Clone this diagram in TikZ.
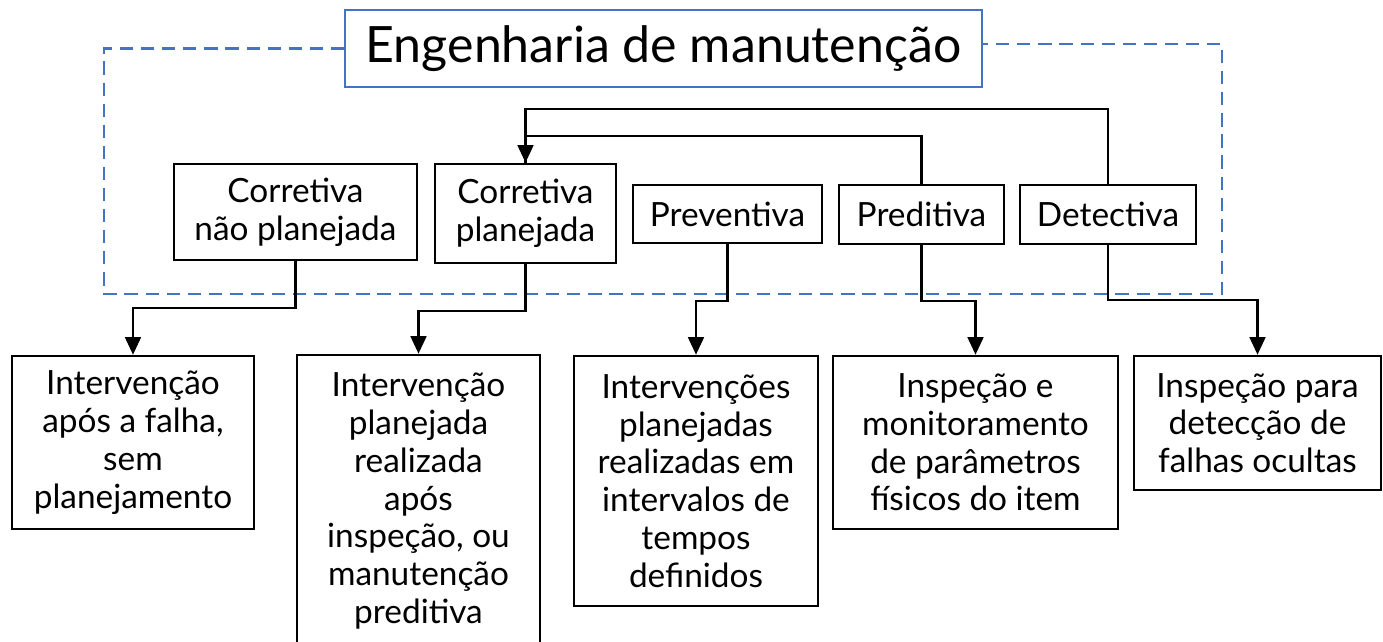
\documentclass[tikz,border=0pt]{standalone}
\usepackage{fontspec}
\setmainfont{Lato}
\usepackage{xcolor}
\usetikzlibrary{arrows.meta}
\definecolor{titleblue}{HTML}{4472C4}

\begin{document}
\begin{tikzpicture}[x=0.02cm, y=-0.02cm,
  box/.style={draw, line width=1.5pt, align=center, inner sep=0pt,
    font=\fontsize{19}{21.5}\selectfont},
  titlebox/.style={draw=titleblue, line width=1.2pt, inner sep=0pt,
    font=\fontsize{28.5}{31}\selectfont},
  dashbox/.style={titleblue, line width=1.4pt, dash pattern=on 7.5pt off 4.5pt},
  arr/.style={line width=1.3pt, -{Triangle[length=10pt,width=9pt]}}]
\useasboundingbox (0,0) rectangle (1383,642);
\node[titlebox, minimum width=12.74cm, minimum height=1.54cm] (title) at (663.5,48.5) {Engenharia de manuten\c{c}\~ao\hspace{0.16cm}};
% categorias
\node[box, minimum width=4.86cm, minimum height=1.92cm] (cnp) at (295.5,212) {Corretiva\\n\~ao planejada};
\node[box, minimum width=3.62cm, minimum height=1.98cm] (cp) at (525.5,213.5) {Corretiva\\planejada};
\node[box, minimum width=3.78cm, minimum height=1.16cm] (prev) at (727.5,214) {Preventiva};
\node[box, minimum width=3.30cm, minimum height=1.18cm] (pred) at (921.5,214.5) {Preditiva};
\node[box, minimum width=3.52cm, minimum height=1.18cm] (det) at (1108,214.5) {Detectiva};
% descricoes
\node[box, minimum width=4.84cm, minimum height=3.46cm] (b1) at (133,442.5) {Interven\c{c}\~ao\\ap\'os a falha,\\sem\\planejamento};
\node[box, minimum width=4.86cm, minimum height=5.84cm] (b2) at (418.5,501) {Interven\c{c}\~ao\\planejada\\realizada\\ap\'os\\inspe\c{c}\~ao, ou\\manuten\c{c}\~ao\\preditiva};
\node[box, minimum width=4.88cm, minimum height=5.00cm] (b3) at (696,481) {Interven\c{c}\~oes\\planejadas\\realizadas em\\intervalos de\\tempos\\definidos};
\node[box, minimum width=5.70cm, minimum height=3.46cm] (b4) at (975.5,442.5) {Inspe\c{c}\~ao e\\monitoramento\\de par\^ametros\\f\'isicos do item};
\node[box, minimum width=4.94cm, minimum height=2.68cm] (b5) at (1257.5,423) {Inspe\c{c}\~ao para\\detec\c{c}\~ao de\\falhas ocultas};
% contorno tracejado
\coordinate (dl) at (104,294);
\coordinate (dr) at (1222,294);
\draw[dashbox] (title.west) -| (dl) -- (dr) |- ([yshift=0.09cm]title.east);
% ligacoes
\draw[arr] (det.north) -- ++(0,-75) -| (cp.north);
\draw[line width=1.3pt] (pred.north) -- ++(0,-48) -| (cp.north);
\draw[arr] (cnp.south) -- ++(0,47) -| (b1.north);
\draw[arr] (cp.south) -- ++(0,47) -| (b2.north);
\draw[arr] (prev.south) -- ++(0,57) -| (b3.north);
\draw[arr] (pred.south) -- ++(0,56) -| (b4.north);
\draw[arr] (det.south) -- ++(0,55) -| (b5.north);
\end{tikzpicture}
\end{document}
